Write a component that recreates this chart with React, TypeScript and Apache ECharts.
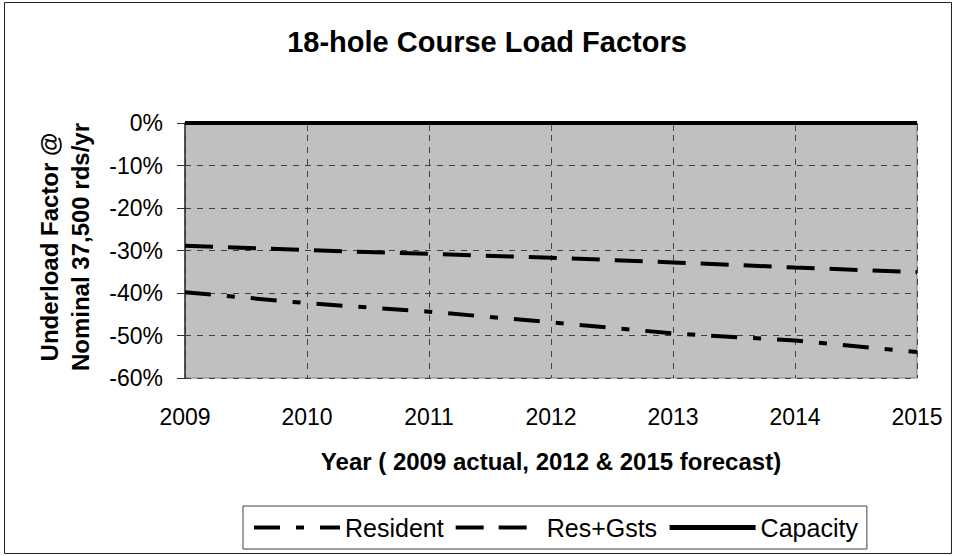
import React, { useEffect, useRef } from "react";
import * as echarts from "echarts";

const years = ["2009", "2010", "2011", "2012", "2013", "2014", "2015"];
const resident = [-39.8, -42.4, -44.4, -46.9, -49.5, -51.2, -53.9];
const resGsts = [-28.9, -29.9, -30.8, -31.7, -32.8, -34.0, -35.1];
const capacity = [0, 0, 0, 0, 0, 0, 0];
const seriesNames = ["Resident", "Res+Gsts", "Capacity"];
const titleText = "18-hole Course Load Factors";
const yNameLines = ["Underload Factor @", "Nominal 37,500 rds/yr"];
const xNameText = "Year ( 2009 actual, 2012 & 2015 forecast)";

const FONT = "'Liberation Sans', Arial, Helvetica, sans-serif";

const dashes: any[] = [[26, 16, 8, 16], [28, 15], "solid"];

export default function App() {
  const ref = useRef<HTMLDivElement>(null);
  useEffect(() => {
    if (!ref.current) return;
    const chart = echarts.init(ref.current, null, { renderer: "svg" });
    const gridLine = { show: true, lineStyle: { color: "#404040", width: 1, type: [6, 6] as any } };
    const seriesData = [resident, resGsts, capacity];
    chart.setOption({
      animation: false,
      backgroundColor: "#ffffff",
      textStyle: { fontFamily: FONT },
      grid: {
        left: 185,
        top: 123,
        width: 732,
        height: 255,
        show: true,
        backgroundColor: "#C0C0C0",
        borderColor: "#808080",
        borderWidth: 1,
      },
      xAxis: {
        type: "category",
        data: years,
        boundaryGap: false,
        axisLine: { show: true, lineStyle: { color: "#505050", width: 1 } },
        axisTick: { show: true, length: 8, lineStyle: { color: "#505050" } },
        axisLabel: { color: "#000", fontSize: 23, fontFamily: FONT, margin: 27 },
        splitLine: gridLine,
      },
      yAxis: {
        type: "value",
        min: -60,
        max: 0,
        interval: 10,
        axisLine: { show: true, lineStyle: { color: "#303030", width: 1.5 } },
        axisTick: { show: true, length: 8, lineStyle: { color: "#303030" } },
        axisLabel: {
          color: "#000",
          fontSize: 23,
          fontFamily: FONT,
          margin: 22,
          formatter: (v: number) => `${v}%`,
        },
        splitLine: gridLine,
      },
      legend: {
        data: seriesNames.map((n, i) => ({
          name: n,
          itemStyle: { opacity: 0 },
          lineStyle: { width: i === 2 ? 5 : 4, type: dashes[i], color: "#000", cap: "butt" },
        })),
        left: 243,
        top: 506,
        padding: [9, 9, 9, 9],
        itemWidth: 86,
        itemHeight: 14,
        itemGap: 10,
        borderColor: "#404040",
        borderWidth: 1,
        backgroundColor: "#ffffff",
        textStyle: { color: "#000", fontSize: 25, fontFamily: FONT, padding: [0, 0, 0, 0] },
      },
      graphic: [
        {
          type: "rect",
          shape: { x: 4.5, y: 2.5, width: 947, height: 551 },
          style: { fill: "none", stroke: "#202020", lineWidth: 1 },
          silent: true,
        },
        {
          type: "text",
          x: 487,
          y: 42,
          style: {
            text: titleText,
            fontSize: 29,
            fontWeight: "bold",
            fontFamily: FONT,
            fill: "#000",
            align: "center",
            verticalAlign: "middle",
          },
        },
        {
          type: "text",
          x: 65,
          y: 247,
          rotation: Math.PI / 2,
          style: {
            text: yNameLines.join("\n"),
            fontSize: 24,
            fontWeight: "bold",
            fontFamily: FONT,
            fill: "#000",
            align: "center",
            verticalAlign: "middle",
            lineHeight: 31,
          },
        },
        {
          type: "text",
          x: 551,
          y: 461,
          style: {
            text: xNameText,
            fontSize: 24,
            fontWeight: "bold",
            fontFamily: FONT,
            fill: "#000",
            align: "center",
            verticalAlign: "middle",
          },
        },
      ],
      series: seriesNames.map((n, i) => ({
        name: n,
        type: "line",
        data: seriesData[i],
        symbol: "none",
        lineStyle: { color: "#000", width: 4, type: dashes[i], cap: "butt" },
        itemStyle: { color: "#000" },
      })),
    });
    return () => chart.dispose();
  }, []);
  return (
    <div
      ref={ref}
      style={{ position: "fixed", left: 0, top: 0, width: 956, height: 556, background: "#fff" }}
    />
  );
}
